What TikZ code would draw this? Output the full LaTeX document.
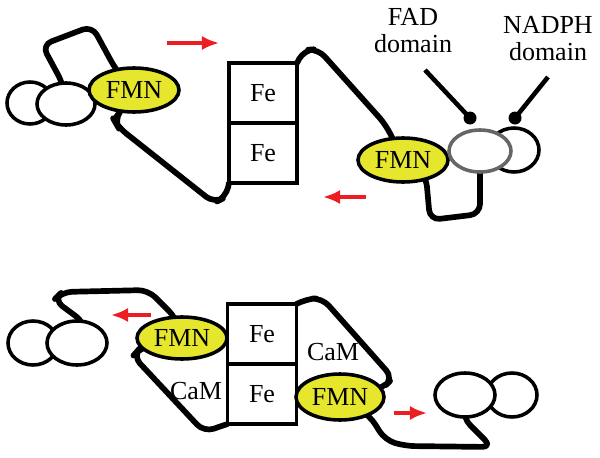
\documentclass[tikz,border=0pt]{standalone}
\usepackage{fontspec}
\setmainfont{Liberation Serif}
\usepackage{tikz}
\usetikzlibrary{arrows.meta}
\usetikzlibrary{positioning,shapes.geometric}
\pgfdeclarelayer{background}
\pgfsetlayers{background,main}
\definecolor{fmnyellow}{RGB}{230,230,45}
\definecolor{arrred}{RGB}{236,30,36}

\begin{document}
\begin{tikzpicture}[
	x=1pt, y=-1pt,
	every node/.style={font=\fontsize{26}{27}\selectfont, inner sep=0pt},
	MyOvals/.style={ellipse, draw=black, fill=white, line width=1.25mm},
	FMNnode/.style={ellipse, draw=black, fill=fmnyellow, line width=1.25mm, minimum width=90, minimum height=44},
	FeBox/.style={rectangle, draw=black, fill=white, line width=1.15mm, outer sep=0pt, minimum width=68, minimum height=60},
	Linker/.style={line width=2mm, black, rounded corners=10pt, line join=round, line cap=round},
	Pointer/.style={line width=1.6mm, black},
	Move/.style={-{Latex[length=6mm, width=5mm]}, line width=1.7mm, arrred}
	]
	\useasboundingbox (0,0) rectangle (600,458);
	
	% upper form
	\node[MyOvals, minimum width=46, minimum height=42] (ovA1) at (30,103) {};
	\node[MyOvals, minimum width=58, minimum height=42] (ovA2) at (66,104) {};
	\node[FMNnode] (fmnA) at (134,90) {FMN};
	
	\node[FeBox] (feA1) at (263,93) {Fe};
	\node[FeBox, below=0pt of feA1] (feA2) {Fe};
	
	\node[FMNnode] (fmnB) at (403,160) {FMN};
	\node[MyOvals, minimum width=50, minimum height=44] (nadph) at (514,150) {};
	\node[MyOvals, draw=black!60, minimum width=62, minimum height=42] (fad) at (480,151) {};
	
	\node[circle, fill=black, minimum size=13] (fadDot) at (470,118) {};
	\node[circle, fill=black, minimum size=13] (nadphDot) at (515,118) {};
	\node[align=center] (fadLbl) at (413,31) {FAD\\domain};
	\node[align=center] (nadphLbl) at (548,39) {NADPH\\domain};
	\coordinate (fadEnd) at (425,70);
	\coordinate (nadphEnd) at (548,77);
	\draw[Pointer] (fadEnd) -- (fadDot.center);
	\draw[Pointer] (nadphEnd) -- (nadphDot.center);
	
	\begin{pgfonlayer}{background}
	\draw[Linker] (ovA2.center) -- (63,84) -- (42,45) -- (92,26) -- (116,70) -- (fmnA.center);
	\draw[Linker] (fmnA.center) -- (120,112) -- (114,120) -- (118,127) -- (214,203) -- (226,197) -- (feA2.south west);
	\draw[Linker] (feA1.north east) -- (304,50) -- (318,49) -- (386,125) -- (fmnB.center);
	\draw[Linker] (fmnB.center) -- (426,176) -- (430,220) -- (480,214) -- (fad.center);
	\end{pgfonlayer}
	
	\coordinate (mvA1) at (167,43);
	\coordinate (mvA2) at (219,43);
	\coordinate (mvB1) at (366,197);
	\coordinate (mvB2) at (323,197);
	\draw[Move] (mvA1) -- (mvA2);
	\draw[Move] (mvB1) -- (mvB2);
	
	% lower form, with CaM
	\node[MyOvals, minimum width=50, minimum height=44] (ovC1) at (33,343) {};
	\node[MyOvals, minimum width=60, minimum height=44] (ovC2) at (77,343) {};
	\node[FMNnode, minimum height=42] (fmnC) at (182,338) {FMN};
	
	\node[FeBox, minimum width=69] (feC1) at (262,334) {Fe};
	\node[FeBox, minimum width=69, below=0pt of feC1] (feC2) {Fe};
	\node (camA) at (196,391) {CaM};
	\node (camB) at (333,352) {CaM};
	
	\node[FMNnode, minimum width=88, minimum height=46] (fmnD) at (340,397) {FMN};
	\node[MyOvals, minimum width=50, minimum height=44] (ovD2) at (512,395) {};
	\node[MyOvals, minimum width=60, minimum height=44] (ovD1) at (465,395) {};
	
	\begin{pgfonlayer}{background}
	\draw[Linker] (ovC2.center) -- (85,323) -- (54,300) -- (62,292) -- (148,290) -- (176,318) -- (fmnC.center);
	\draw[Linker] (fmnC.center) -- (140,348) -- (133,356) -- (204,432) -- (feC2.south west);
	\draw[Linker] (feC1.north east) -- (306,299) -- (322,298) -- (393,378) -- (383,388) -- (fmnD.center);
	\draw[Linker] (fmnD.center) -- (370,416) -- (385,440) -- (405,446) -- (492,447) -- (463,418) -- (ovD1.center);
	\end{pgfonlayer}
	
	\coordinate (mvC1) at (151,315);
	\coordinate (mvC2) at (111,315);
	\coordinate (mvD1) at (394,413);
	\coordinate (mvD2) at (427,413);
	\draw[Move] (mvC1) -- (mvC2);
	\draw[Move] (mvD1) -- (mvD2);
	
	\end{tikzpicture}
\end{document}
